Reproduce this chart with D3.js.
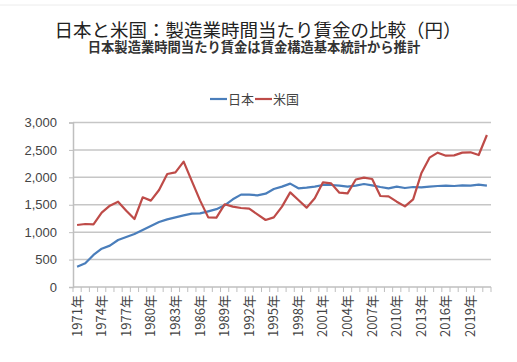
<!DOCTYPE html>
<html>
<head>
<meta charset="utf-8">
<script src="https://cdn.jsdelivr.net/npm/d3@7"></script>
<style>
  body { margin: 0; background: #fff; }
  svg { display: block; font-family: "Noto Sans CJK JP", "Noto Sans", sans-serif; }
</style>
</head>
<body>
<svg id="chart" width="517" height="362"></svg>
<script>
const width = 517;
const height = 362;

const years = d3.range(1971, 2022);
const japan = [
  371, 432, 584, 699, 754, 857, 912, 967, 1040, 1112,
  1185, 1234, 1270, 1307, 1337, 1343, 1380, 1420, 1489, 1599,
  1684, 1684, 1672, 1702, 1787, 1830, 1885, 1800, 1812, 1830,
  1860, 1860, 1848, 1830, 1850, 1878, 1854, 1824, 1800, 1830,
  1805, 1824, 1818, 1830, 1842, 1848, 1842, 1854, 1848, 1866, 1848
];
const usa = [
  1131, 1149, 1143, 1356, 1483, 1556, 1392, 1240, 1635, 1575,
  1769, 2061, 2091, 2286, 1930, 1580, 1270, 1264, 1508, 1465,
  1441, 1428, 1325, 1222, 1270, 1465, 1726, 1587, 1447, 1617,
  1909, 1890, 1720, 1708, 1960, 1994, 1970, 1660, 1653, 1556,
  1471, 1599, 2073, 2359, 2450, 2395, 2401, 2450, 2456, 2407, 2772
];
const yTicks = [0, 500, 1000, 1500, 2000, 2500, 3000];
const series = [
  { name: "日本", values: japan, color: "#4a7ebb" },
  { name: "米国", values: usa, color: "#be4b48" }
];

const margin = { top: 122.5, right: 26, bottom: 75, left: 73 };

const svg = d3.select("#chart");

// faint top border of the screenshot
svg.append("line")
  .attr("x1", 0).attr("x2", width)
  .attr("y1", 5).attr("y2", 5)
  .attr("stroke", "#ececec");

svg.append("text")
  .attr("x", 258).attr("y", 36.5)
  .attr("text-anchor", "middle")
  .attr("font-size", 18.5)
  .attr("fill", "#222")
  .text("日本と米国：製造業時間当たり賃金の比較（円）");

svg.append("text")
  .attr("x", 254).attr("y", 52)
  .attr("text-anchor", "middle")
  .attr("font-size", 13.3)
  .attr("font-weight", "bold")
  .attr("fill", "#333")
  .text("日本製造業時間当たり賃金は賃金構造基本統計から推計");

const x = d3.scaleBand()
  .domain(years)
  .range([margin.left, width - margin.right]);

const y = d3.scaleLinear()
  .domain([0, 3000])
  .range([height - margin.bottom, margin.top]);

// gridlines
svg.append("g")
  .selectAll("line")
  .data(yTicks.filter(d => d > 0))
  .join("line")
  .attr("x1", margin.left)
  .attr("x2", width - margin.right)
  .attr("y1", d => y(d))
  .attr("y2", d => y(d))
  .attr("stroke", "#c6c6c6")
  .attr("stroke-width", 1.5);

// y axis
const yAxis = svg.append("g")
  .attr("transform", `translate(${margin.left},0)`)
  .call(d3.axisLeft(y).tickValues(yTicks).tickSize(4).tickPadding(12).tickFormat(d3.format(",")));
yAxis.select(".domain").attr("stroke", "#bfbfbf").attr("stroke-width", 1.5);
yAxis.selectAll(".tick line").attr("stroke", "#bfbfbf");
yAxis.selectAll("text")
  .attr("font-family", "'Liberation Sans', Arial, sans-serif")
  .attr("font-size", 13)
  .attr("fill", "#444");

// x axis
const xg = svg.append("g")
  .attr("transform", `translate(0,${y(0)})`);
xg.append("line")
  .attr("x1", margin.left).attr("x2", width - margin.right)
  .attr("stroke", "#bfbfbf").attr("stroke-width", 1.5);
xg.selectAll(".xt")
  .data(years.concat([null]))
  .join("line")
  .attr("class", "xt")
  .attr("x1", d => d === null ? width - margin.right : x(d))
  .attr("x2", d => d === null ? width - margin.right : x(d))
  .attr("y1", 0).attr("y2", 5)
  .attr("stroke", "#bfbfbf");
xg.selectAll("text")
  .data(years.filter((d, i) => i % 3 === 0))
  .join("text")
  .attr("transform", d => `translate(${x(d) + x.bandwidth() / 2 + 4.5},8) rotate(-90)`)
  .attr("text-anchor", "end")
  .attr("font-size", 13)
  .attr("fill", "#444")
  .text(d => d + "年");

// lines
const line = d3.line()
  .x((d, i) => x(years[i]) + x.bandwidth() / 2)
  .y(d => y(d));

svg.append("g")
  .selectAll("path")
  .data(series)
  .join("path")
  .attr("fill", "none")
  .attr("stroke", d => d.color)
  .attr("stroke-width", 2.2)
  .attr("stroke-linejoin", "round")
  .attr("d", d => line(d.values));

// legend
const legend = svg.append("g")
  .attr("font-size", 13)
  .attr("fill", "#444");
const legendX = [210, 255];
series.forEach((s, i) => {
  const g = legend.append("g").attr("transform", `translate(${legendX[i]},99)`);
  g.append("line").attr("x1", 0).attr("x2", 17).attr("stroke", s.color).attr("stroke-width", 2.2);
  g.append("text").attr("x", 18).attr("y", 4.5).attr("fill", "#444").text(s.name);
});
</script>
</body>
</html>
